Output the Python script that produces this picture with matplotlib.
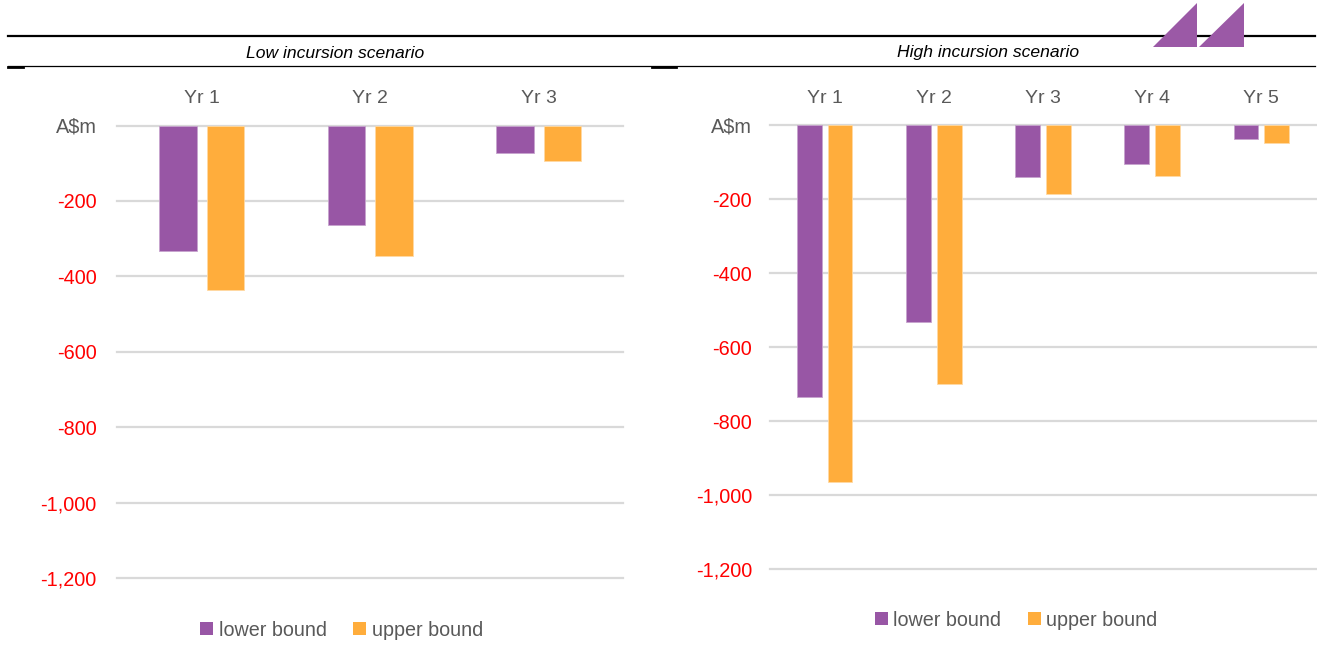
import matplotlib
matplotlib.use("Agg")
import matplotlib.pyplot as plt
import numpy as np
from matplotlib.patches import Patch, Polygon
from matplotlib.lines import Line2D
from matplotlib.ticker import FixedLocator

# ---- data (A$m) ----
low_years = ["Yr 1", "Yr 2", "Yr 3"]
low_lower = [-332, -263, -72]
low_upper = [-436, -345, -94]

high_years = ["Yr 1", "Yr 2", "Yr 3", "Yr 4", "Yr 5"]
high_lower = [-733, -532, -141, -104, -36]
high_upper = [-963, -700, -186, -136, -48]

y_ticks = [0, -200, -400, -600, -800, -1000, -1200]
series_names = ["lower bound", "upper bound"]

PURPLE = "#9856A5"
ORANGE = "#FFAD3C"
GREY = "#595959"
RED = "#FF0000"
GRID = "#D9D9D9"

plt.rcParams["font.family"] = ["Liberation Sans", "DejaVu Sans"]

W, H = 1317, 646
fig = plt.figure(figsize=(W / 100, H / 100), dpi=100)


def px_rect(x0, x1, y_top, y_bot):
    return [x0 / W, 1 - y_bot / H, (x1 - x0) / W, (y_bot - y_top) / H]


def draw_panel(ax, years, lower, upper, width, offset, tick_pad):
    x = np.arange(len(years))
    ax.bar(x - offset, lower, width, color=PURPLE, edgecolor="#C7A4CE",
           linewidth=0.6, zorder=3)
    ax.bar(x + offset, upper, width, color=ORANGE, edgecolor="#FFD9A3",
           linewidth=0.6, zorder=3)
    ax.set_xlim(-0.5, len(years) - 0.5)
    ax.set_ylim(-1200, 0)
    for s in ax.spines.values():
        s.set_visible(False)
    for t in y_ticks:
        ax.axhline(t, color=GRID, lw=1.6, zorder=1, clip_on=False)
    ax.yaxis.set_major_locator(FixedLocator(y_ticks))
    ax.set_yticklabels(["A$m" if t == 0 else f"{t:,}" for t in y_ticks])
    ax.tick_params(axis="y", length=0, pad=tick_pad, labelsize=14.3)
    for lab, t in zip(ax.get_yticklabels(), y_ticks):
        lab.set_color(GREY if t == 0 else RED)
    ax.xaxis.tick_top()
    ax.set_xticks(x)
    ax.set_xticklabels(years)
    ax.tick_params(axis="x", length=0, pad=13, labelsize=14, labelcolor=GREY)


ax_low = fig.add_axes(px_rect(117.4, 623, 125.5, 578))
draw_panel(ax_low, low_years, low_lower, low_upper, 0.222, 0.141, 15)

ax_high = fig.add_axes(px_rect(770, 1316, 125.3, 569.3))
draw_panel(ax_high, high_years, high_lower, high_upper, 0.228, 0.141, 13)

# legends
handles = [Patch(facecolor=PURPLE, edgecolor="none"),
           Patch(facecolor=ORANGE, edgecolor="none")]
for cx, cy in [(341.5, 630), (1016, 620)]:
    fig.legend(handles, series_names, loc="center",
               bbox_to_anchor=(cx / W, 1 - cy / H), ncol=2, frameon=False,
               fontsize=14.2, labelcolor=GREY, handlelength=0.67,
               handleheight=0.67, handletextpad=0.27, columnspacing=1.35,
               borderaxespad=0, borderpad=0)

# header rules
fig.add_artist(Line2D([8 / W, 1315 / W], [1 - 36 / H] * 2, color="black",
                      lw=1.6, transform=fig.transFigure))
fig.add_artist(Line2D([8 / W, 1315 / W], [1 - 66 / H] * 2, color="black",
                      lw=0.9, transform=fig.transFigure))
for x0, x1 in [(8, 23), (652, 676)]:
    fig.add_artist(Line2D([x0 / W, x1 / W], [1 - 66.5 / H] * 2,
                          color="black", lw=2.0, transform=fig.transFigure))

# panel titles
fig.text(335 / W, 1 - 53 / H, "Low incursion scenario", ha="center",
         va="center", fontsize=12.6, style="italic", color="black")
fig.text(988 / W, 1 - 53 / H, "High incursion scenario", ha="center",
         va="center", fontsize=12.6, style="italic", color="black")

# logo
for xl, xr in [(1153, 1197), (1199, 1244)]:
    tri = Polygon([(xl / W, 1 - 47 / H), (xr / W, 1 - 47 / H),
                   (xr / W, 1 - 3 / H)], closed=True, facecolor="#9B59A6",
                  edgecolor="none", transform=fig.transFigure, zorder=10)
    fig.add_artist(tri)

fig.savefig("out.png", dpi=100)
